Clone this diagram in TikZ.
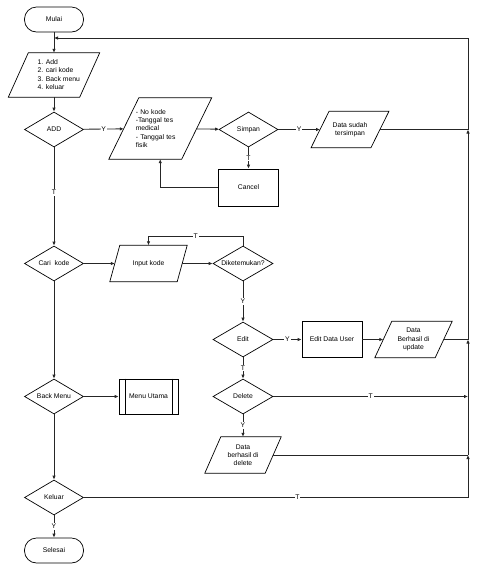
\documentclass[tikz,border=0pt]{standalone}
\usepackage{fontspec}
\setmainfont{Liberation Sans}
\usetikzlibrary{shapes.geometric,arrows.meta,calc}
\newcommand\nowidth[1]{\makebox[0pt]{#1}}
\newcommand\slantbox[2]{\draw[shp] ([xshift=-#2/2]#1.south west) -- ([xshift=#2/2]#1.north west) -- ([xshift=#2/2]#1.north east) -- ([xshift=-#2/2]#1.south east) -- cycle;}
\begin{document}
\begin{tikzpicture}[x=1pt,y=-1pt,
  every node/.style={font=\fontsize{6.8}{8.3}\selectfont},
  shp/.style={draw=black,line width=0.7pt},
  term/.style={shp,rounded corners=12pt,minimum width=59pt,minimum height=25pt,inner sep=0pt},
  dec/.style={shp,diamond,minimum width=59pt,minimum height=35pt,inner sep=0pt},
  proc/.style={shp,rectangle,minimum width=60pt,minimum height=36pt,inner sep=0pt},
  pbox/.style={rectangle,inner sep=0pt,align=center},
  con/.style={draw=black!85,line width=0.85pt},
  arr/.style={con,-{Latex[length=4pt,width=3.5pt]}},
  lbl/.style={fill=white,inner sep=0.8pt},
]
\useasboundingbox (0,0) rectangle (503,566);

% nodes
\node[term] (mulai) at (54,19.5) {Mulai};
\node[pbox,minimum width=71pt,minimum height=44pt] (menu) at (54,75) {};
\slantbox{menu}{20}
\node[anchor=west,align=left,inner sep=0pt] (menutxt) at (37.5,74.5) {1. Add\\2. cari kode\\3. Back menu\\4. keluar};

\node[dec] (add) at (54,129.5) {\nowidth{ADD}};
\node[pbox,minimum width=72.5pt,minimum height=61pt,text width=49pt,align=left] (datain) at (160.25,128.5) {- No kode\\-Tanggal tes\\medical\\- Tanggal tes\\fisik};
\slantbox{datain}{30}
\node[dec] (simpan) at (248.5,129.5) {\nowidth{Simpan}};
\node[pbox,minimum width=59.5pt,minimum height=36pt] (tersimpan) at (350,129.5) {Data sudah\\tersimpan};
\slantbox{tersimpan}{18}
\node[proc,minimum height=37pt] (cancel) at (248.5,187.5) {Cancel};

\node[dec] (cari) at (54,263.5) {\nowidth{Cari~ kode}};
\node[pbox,minimum width=67pt,minimum height=36pt] (inputkode) at (148.5,263.5) {Input kode};
\slantbox{inputkode}{10}
\node[dec,minimum width=60pt] (dik) at (243,263.5) {\nowidth{Diketemukan?}};

\node[dec,minimum width=60pt] (edit) at (243,339.5) {\nowidth{Edit}};
\node[proc] (editdata) at (332,339.5) {Edit Data User};
\node[pbox,minimum width=60pt,minimum height=36pt] (update) at (413.5,339.5) {Data\\Berhasil di\\update};
\slantbox{update}{17}

\node[dec,minimum width=60pt] (delete) at (243,396.5) {\nowidth{Delete}};
\node[pbox,minimum width=60pt,minimum height=36pt] (deldata) at (243,455) {Data\\berhasil di\\delete};
\slantbox{deldata}{16}

\node[dec] (back) at (54,396.5) {\nowidth{Back Menu}};
\node[proc,minimum width=59pt,minimum height=35pt] (menuutama) at (148.5,396.5) {Menu Utama};
\draw[shp] ([xshift=6.5pt]menuutama.north west) -- ([xshift=6.5pt]menuutama.south west);
\draw[shp] ([xshift=-6.5pt]menuutama.north east) -- ([xshift=-6.5pt]menuutama.south east);

\node[dec] (keluar) at (54,497.5) {\nowidth{Keluar}};
\node[term] (selesai) at (54,550.5) {Selesai};

% junction coordinates
\coordinate (j130) at (468,129.5);
\coordinate (j339) at (468,339.5);
\coordinate (j396) at (468,396.5);
\coordinate (j455) at (468,455);
\coordinate (j497) at (468,497.5);
\coordinate (jtop) at (468,38);
\coordinate (jleft) at (54,38);
\coordinate (dikup) at (243,236);

% left column
\draw[arr] (mulai) -- (menu);
\draw[arr] (menu) -- (add);
\draw[arr] (add) -- node[lbl,pos=0.46]{T} (cari);
\draw[arr] (cari) -- (back);
\draw[arr] (back) -- (keluar);
\draw[arr] (keluar) -- node[lbl]{Y} (selesai);

% ADD branch
\draw[arr] (add) -- node[lbl]{Y} (datain);
\draw[arr] (datain) -- (simpan);
\draw[arr] (simpan) -- node[lbl]{Y} (tersimpan);
\draw[arr] (simpan) -- node[lbl]{T} (cancel);
\draw[arr] (cancel.west) -| (datain.south);
\draw[con] (tersimpan.east) -- (j130);

% cari branch
\draw[arr] (cari) -- (inputkode);
\draw[arr] (inputkode) -- (dik);
\draw[arr] (dik.north) -- (dikup) -| node[lbl,pos=0.25]{T} (inputkode.north);
\draw[arr] (dik) -- node[lbl]{Y} (edit);
\draw[arr] (edit) -- node[lbl]{Y} (editdata);
\draw[arr] (editdata) -- (update);
\draw[con] (update.east) -- (j339);
\draw[arr] (edit) -- node[lbl]{T} (delete);
\draw[arr] (delete.east) -- node[lbl]{T} (j396);
\draw[arr] (delete) -- node[lbl]{Y} (deldata);
\draw[con] (deldata.east) -- (j455);

% back menu
\draw[arr] (back) -- (menuutama);

% keluar T and return column
\draw[con] (keluar.east) -- node[lbl,pos=0.556]{T} (j497);
\draw[arr] (j497) -- (j455);
\draw[arr] (j455) -- (j339);
\draw[arr] (j339) -- (j130);
\draw[arr] (j130) -- (jtop) -- (jleft);
\end{tikzpicture}
\end{document}
